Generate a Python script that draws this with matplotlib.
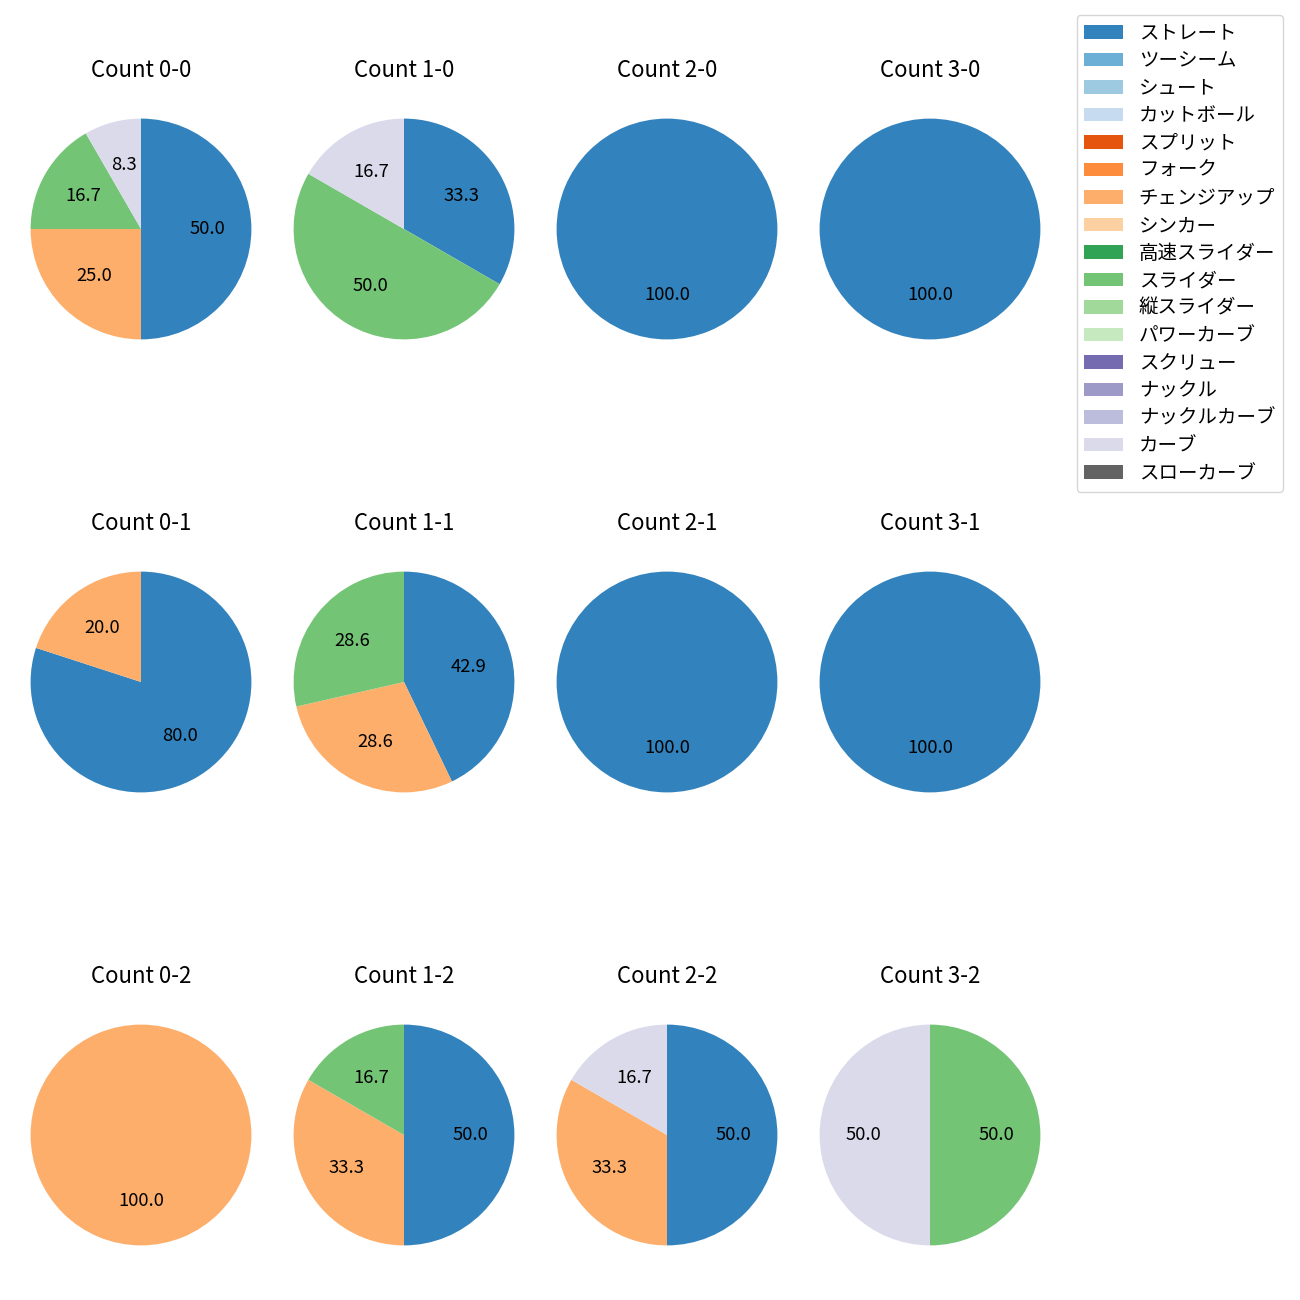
import matplotlib
matplotlib.use("Agg")
import matplotlib.pyplot as plt
from matplotlib.patches import Patch

plt.rcParams['font.family'] = ['Noto Sans CJK JP', 'DejaVu Sans']

PITCHES = ["ストレート", "ツーシーム", "シュート", "カットボール", "スプリット", "フォーク",
           "チェンジアップ", "シンカー", "高速スライダー", "スライダー", "縦スライダー",
           "パワーカーブ", "スクリュー", "ナックル", "ナックルカーブ", "カーブ", "スローカーブ"]

# pitch counts per ball-strike count, as (pitch, n) pairs
COUNT_LABELS = ["0-0", "1-0", "2-0", "3-0",
                "0-1", "1-1", "2-1", "3-1",
                "0-2", "1-2", "2-2", "3-2"]
COUNT_DATA = [
    [("ストレート", 6), ("チェンジアップ", 3), ("スライダー", 2), ("カーブ", 1)],
    [("ストレート", 2), ("スライダー", 3), ("カーブ", 1)],
    [("ストレート", 1)],
    [("ストレート", 1)],
    [("ストレート", 4), ("チェンジアップ", 1)],
    [("ストレート", 3), ("チェンジアップ", 2), ("スライダー", 2)],
    [("ストレート", 1)],
    [("ストレート", 1)],
    [("チェンジアップ", 1)],
    [("ストレート", 3), ("チェンジアップ", 2), ("スライダー", 1)],
    [("ストレート", 3), ("チェンジアップ", 2), ("カーブ", 1)],
    [("スライダー", 1), ("カーブ", 1)],
]

cmap = plt.get_cmap("tab20c")
colors = {p: cmap(i) for i, p in enumerate(PITCHES)}

W = H = 1300
COL_X = [141, 404, 667, 930]
ROW_Y = [229, 682, 1135]
S = 276  # axes side in px (pie radius 1, limits +-1.25)

fig = plt.figure(figsize=(13, 13), dpi=100)

for k, (lab, data) in enumerate(zip(COUNT_LABELS, COUNT_DATA)):
    r, c = divmod(k, 4)
    cx, cy = COL_X[c], ROW_Y[r]
    ax = fig.add_axes([(cx - S / 2) / W, 1 - (cy + S / 2) / H, S / W, S / H])
    names = [p for p, _ in data]
    vals = [n for _, n in data]
    ax.pie(vals, colors=[colors[p] for p in names], autopct="%.1f",
           startangle=90, counterclock=False, textprops={"fontsize": 13.3})
    ax.set_xlim(-1.25, 1.25)
    ax.set_ylim(-1.25, 1.25)
    ax.set_title(f"Count {lab}", fontsize=16, pad=10)

handles = [Patch(facecolor=colors[p], label=p) for p in PITCHES]
fig.legend(handles=handles, loc="upper right", fontsize=14, labelspacing=0.335,
           bbox_to_anchor=(1283 / W, 1 - 15 / H), borderaxespad=0)

fig.savefig("out.png", dpi=100)
